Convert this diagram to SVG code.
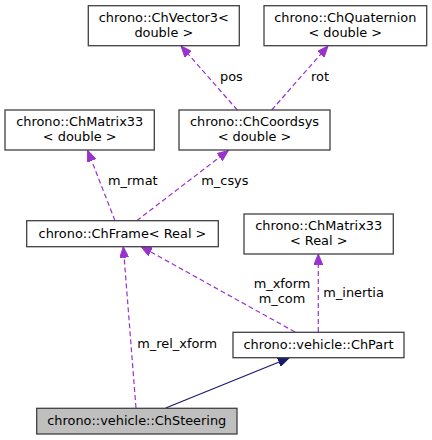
<svg xmlns="http://www.w3.org/2000/svg" width="432" height="440" viewBox="0 0 432 440">
<style>
.box{fill:#ffffff;stroke:#404040;stroke-width:1.3}
.cur{fill:#bfbfbf;stroke:#404040;stroke-width:1.3}
text{font-family:"DejaVu Sans","Liberation Sans",sans-serif;font-size:12.9px;fill:#000000}
.c{text-anchor:middle}
.dep{fill:none;stroke:#9a32cd;stroke-width:1.2;stroke-dasharray:5,3}
.inh{fill:none;stroke:#191970;stroke-width:1.2}
</style>
<defs>
<marker id="ap" markerUnits="userSpaceOnUse" markerWidth="12" markerHeight="9" refX="11" refY="4.5" orient="auto" viewBox="0 0 12 9">
<path d="M0,0 L11,4.5 L0,9 z" fill="#9a32cd" stroke="#9a32cd"/>
</marker>
<marker id="an" markerUnits="userSpaceOnUse" markerWidth="12" markerHeight="9" refX="11" refY="4.5" orient="auto" viewBox="0 0 12 9">
<path d="M0,0 L11,4.5 L0,9 z" fill="#191970" stroke="#191970"/>
</marker>
</defs>
<g id="connectors">
<path class="dep" d="M237.3,110 L181,46" marker-end="url(#ap)"/>
<text x="220" y="80.7">pos</text>
<path class="dep" d="M271.7,110 L328,46" marker-end="url(#ap)"/>
<text x="311" y="80.7">rot</text>
<path class="dep" d="M115,220.7 L87.7,150.5" marker-end="url(#ap)"/>
<text x="108" y="185">m_rmat</text>
<path class="dep" d="M136.7,220.7 L228.3,150.5" marker-end="url(#ap)"/>
<text x="201.3" y="185">m_csys</text>
<path class="dep" d="M136,408 L123.3,246.7" marker-end="url(#ap)"/>
<text x="137.3" y="348.3">m_rel_xform</text>
<path class="dep" d="M295,332 L141,246.5" marker-end="url(#ap)"/>
<text class="c" x="282" y="288.3">m_xform</text>
<text class="c" x="282" y="303.3">m_com</text>
<path class="dep" d="M318.3,332 L318.3,254" marker-end="url(#ap)"/>
<text x="323.3" y="296.7">m_inertia</text>
<path class="inh" d="M165.7,408 L289,358" marker-end="url(#an)"/>
</g>
<g id="node-ChVector3">
<rect class="box" x="88.3" y="5.7" width="151" height="40"/>
<text class="c" x="163.8" y="21.7">chrono::ChVector3&lt;</text>
<text class="c" x="163.8" y="36.7">double &gt;</text>
</g>
<g id="node-ChQuaternion">
<rect class="box" x="264" y="5.7" width="162.7" height="40"/>
<text class="c" x="345.3" y="21.7">chrono::ChQuaternion</text>
<text class="c" x="345.3" y="36.7">&lt; double &gt;</text>
</g>
<g id="node-ChMatrix33d">
<rect class="box" x="5" y="110" width="149.3" height="40"/>
<text class="c" x="79.7" y="126">chrono::ChMatrix33</text>
<text class="c" x="79.7" y="141">&lt; double &gt;</text>
</g>
<g id="node-ChCoordsys">
<rect class="box" x="179" y="110" width="151" height="40"/>
<text class="c" x="254.5" y="126">chrono::ChCoordsys</text>
<text class="c" x="254.5" y="141">&lt; double &gt;</text>
</g>
<g id="node-ChFrame">
<rect class="box" x="26.7" y="220.7" width="191.6" height="26"/>
<text class="c" x="122.5" y="237.5">chrono::ChFrame&lt; Real &gt;</text>
</g>
<g id="node-ChMatrix33r">
<rect class="box" x="244" y="214" width="149.3" height="40"/>
<text class="c" x="318.7" y="230">chrono::ChMatrix33</text>
<text class="c" x="318.7" y="245">&lt; Real &gt;</text>
</g>
<g id="node-ChPart">
<rect class="box" x="233" y="332.3" width="171" height="25.4"/>
<text class="c" x="318.5" y="349">chrono::vehicle::ChPart</text>
</g>
<g id="node-ChSteering">
<rect class="cur" x="36.7" y="408.3" width="200.3" height="25.7"/>
<text class="c" x="136.8" y="425.3">chrono::vehicle::ChSteering</text>
</g>
</svg>
